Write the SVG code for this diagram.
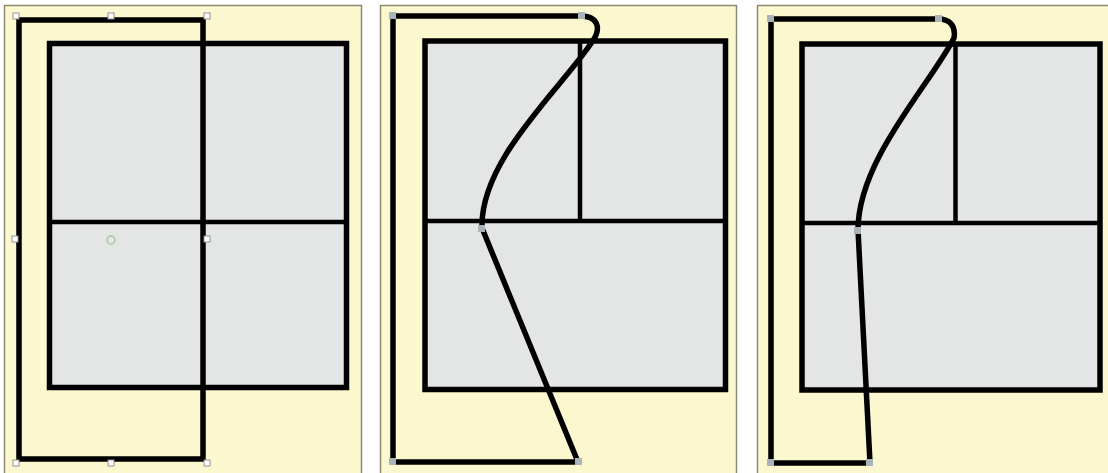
<svg xmlns="http://www.w3.org/2000/svg" width="1108" height="473" viewBox="0 0 1108 473">
<style>
.panel{fill:#fbf8cf;stroke:#8c8a72;stroke-width:1.5}
.box{fill:#e4e5e5;stroke:#000;stroke-width:5.5}
.div{fill:none;stroke:#000;stroke-width:4.5}
.frame{fill:none;stroke:#000;stroke-width:5.5;stroke-linejoin:miter;stroke-linecap:butt}
.handle{fill:#ffffff;stroke:#8f9490;stroke-width:1}
.vtx{fill:#a9b4b8;stroke:none}
</style>
<rect x="0" y="0" width="1108" height="473" fill="#ffffff"/>
<g id="panel1">
<rect class="panel" x="4.5" y="5.5" width="357" height="470"/>
<g id="grid1">
<rect class="box" x="49.5" y="43.5" width="297" height="344"/>
<line class="div" x1="49.5" y1="222" x2="346.5" y2="222"/>
</g>
<g id="frame1">
<rect class="frame" x="19" y="20" width="184" height="439"/>
</g>
<g id="handles1">
<rect class="handle" x="13" y="13" width="6" height="6"/>
<rect class="handle" x="108" y="13" width="6" height="6"/>
<rect class="handle" x="204" y="13" width="6" height="6"/>
<rect class="handle" x="12" y="236" width="6" height="6"/>
<rect class="handle" x="204" y="236" width="6" height="6"/>
<rect class="handle" x="13" y="460" width="6" height="6"/>
<rect class="handle" x="108" y="460" width="6" height="6"/>
<rect class="handle" x="204" y="460" width="6" height="6"/>
<circle cx="111" cy="240" r="4" fill="none" stroke="#9cc894" stroke-width="1.3"/>
</g>
</g>
<g id="panel2">
<rect class="panel" x="380.5" y="5.5" width="356" height="470"/>
<g id="grid2">
<rect class="box" x="425" y="41" width="300.5" height="348.5"/>
<line class="div" x1="425" y1="221" x2="725.5" y2="221"/>
<line class="div" x1="580" y1="41" x2="580" y2="221"/>
</g>
<g id="frame2">
<path class="frame" d="M 393,462 L 393,16 L 580,16 C 598,16 602,28 592,42 C 560,90 480,160 482,228 L 578,462 Z"/>
<rect class="vtx" x="389" y="12" width="7" height="7"/>
<rect class="vtx" x="578" y="12" width="7" height="7"/>
<rect class="vtx" x="478" y="225" width="7" height="7"/>
<rect class="vtx" x="389" y="458" width="7" height="7"/>
<rect class="vtx" x="575" y="458" width="7" height="7"/>
</g>
</g>
<g id="panel3">
<rect class="panel" x="757.5" y="5.5" width="352" height="470"/>
<g id="grid3">
<rect class="box" x="802" y="44" width="298" height="346"/>
<line class="div" x1="802" y1="223" x2="1100" y2="223"/>
<line class="div" x1="955.5" y1="44" x2="955.5" y2="223"/>
</g>
<g id="frame3">
<path class="frame" d="M 771,463 L 771,19 L 938,19 C 950,19 956,26 954,38 C 930,85 858,160 858,230 L 870,463 Z"/>
<rect class="vtx" x="767" y="15" width="7" height="7"/>
<rect class="vtx" x="935" y="15" width="7" height="7"/>
<rect class="vtx" x="854" y="227" width="7" height="7"/>
<rect class="vtx" x="767" y="459" width="7" height="7"/>
<rect class="vtx" x="866" y="459" width="7" height="7"/>
</g>
</g>
</svg>
